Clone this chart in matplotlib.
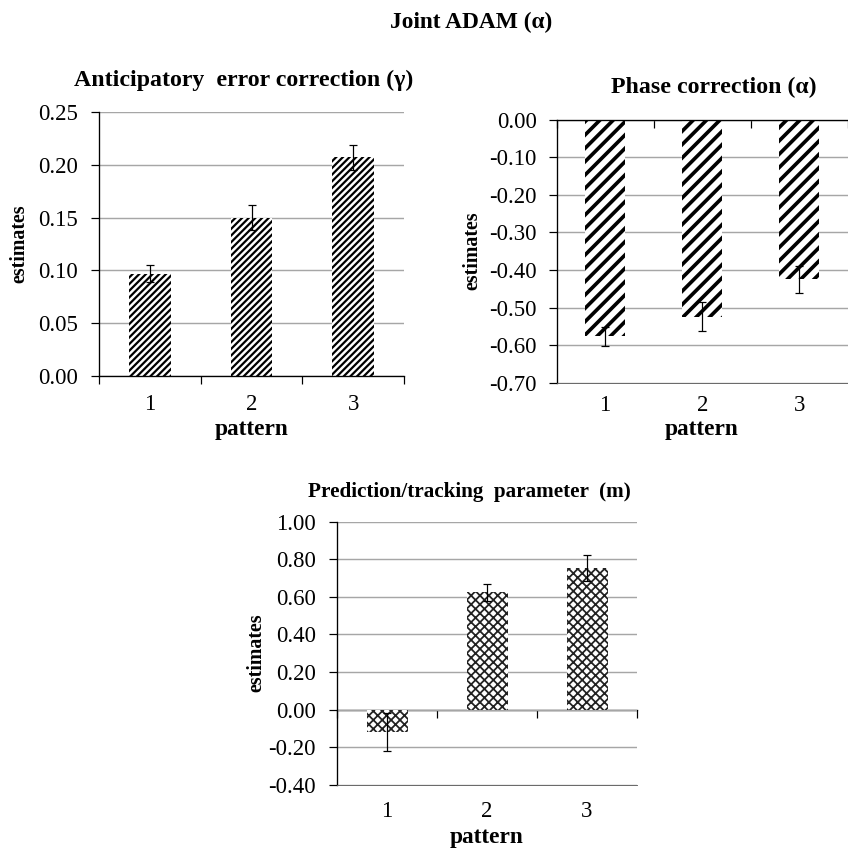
import numpy as np
import matplotlib.pyplot as plt

plt.rcParams['font.family'] = ['Liberation Serif', 'DejaVu Serif']

# data
patterns = [1, 2, 3]
pattern_labels = ['1', '2', '3']
gamma = [0.097, 0.150, 0.207]          # anticipatory error correction
gamma_err = [0.008, 0.012, 0.012]
alpha = [-0.576, -0.524, -0.424]       # phase correction
alpha_err = [0.025, 0.038, 0.036]
m_par = [-0.12, 0.624, 0.752]          # prediction/tracking parameter
m_err = [0.10, 0.045, 0.07]

gamma_ticks = [0.00, 0.05, 0.10, 0.15, 0.20, 0.25]
alpha_ticks = [0.00, -0.10, -0.20, -0.30, -0.40, -0.50, -0.60, -0.70]
m_ticks = [-0.40, -0.20, 0.00, 0.20, 0.40, 0.60, 0.80, 1.00]
bounds = [0.5, 1.5, 2.5, 3.5]

W, H = 848, 850
fig = plt.figure(figsize=(W / 80, H / 80), dpi=80)


def rect(x0, x1, ytop, ybot):
    # pixel box -> figure fraction
    return [x0 / W, 1 - ybot / H, (x1 - x0) / W, (ybot - ytop) / H]


def ftext(x, y, s, **kw):
    fig.text(x / W, 1 - y / H, s, ha=kw.pop('ha', 'center'), va='center', **kw)


def panel(ax, vals, errs, ticks, hatch, hlw, hcol, ypad):
    plt.rcParams['hatch.linewidth'] = hlw
    bars = ax.bar(patterns, vals, width=0.41, color='white', edgecolor=hcol,
                  linewidth=0, hatch=hatch, zorder=2)
    for b in bars:
        if hasattr(b, 'set_hatch_linewidth'):
            b.set_hatch_linewidth(hlw)
    ax.errorbar(patterns, vals, yerr=errs, fmt='none', ecolor='black',
                elinewidth=1.1, capsize=4, capthick=1.1, zorder=3)
    ax.set_ylim(min(ticks), max(ticks))
    ax.set_yticks(ticks, ['%.2f' % t for t in ticks])
    ax.yaxis.grid(True, color='#a6a6a6', lw=1.3)
    ax.set_axisbelow(True)
    ax.spines['right'].set_visible(False)
    ax.spines['top'].set_visible(False)
    ax.spines['left'].set_linewidth(1.2)
    ax.tick_params(axis='y', length=7, width=1.1, labelsize=20.5, pad=ypad)
    ax.set_xticks(patterns, pattern_labels)


# Anticipatory error correction
ax1 = fig.add_axes(rect(99, 404, 112, 376))
panel(ax1, gamma, gamma_err, gamma_ticks, '////', 2.0, 'black', 12)
ax1.set_xlim(0.5, 3.5)
ax1.spines['bottom'].set_linewidth(1.2)
ax1.set_xticks(bounds, minor=True)
ax1.tick_params(axis='x', which='major', length=0, labelsize=20.5, pad=16.5)
ax1.tick_params(axis='x', which='minor', length=7, width=1.1)

# Phase correction
ax2 = fig.add_axes(rect(556.5, 848, 119.5, 383))
panel(ax2, alpha, alpha_err, alpha_ticks, '//', 3.3, 'black', 10.8)
ax2.set_xlim(0.5, 3.43)
ax2.spines['top'].set_visible(True)
ax2.spines['top'].set_linewidth(1.2)
ax2.spines['bottom'].set_color('#5a5a5a')
ax2.set_xticks(bounds, minor=True)
ax2.tick_params(axis='x', which='major', length=0, labelsize=20.5, pad=10.4)
ax2.tick_params(axis='x', which='minor', bottom=False, top=True,
                direction='in', length=7, width=1.1)

# Prediction/tracking parameter
ax3 = fig.add_axes(rect(337, 637, 521.5, 785))
panel(ax3, m_par, m_err, m_ticks, 'xxx', 1.6, '#222222', 12)
ax3.set_xlim(0.5, 3.5)
ax3.spines['bottom'].set_color('#5a5a5a')
ax3.tick_params(axis='x', which='major', length=0, labelsize=20.5, pad=14)
zero = (0 - min(m_ticks)) / (max(m_ticks) - min(m_ticks))
sec = ax3.secondary_xaxis(zero)
sec.set_xticks(bounds, ['', '', '', ''])
sec.tick_params(length=7, width=1.1, direction='out')
sec.spines['bottom'].set_linewidth(1.2)

# texts
ftext(471, 22, 'Joint ADAM (\u03b1)', fontsize=21, fontweight='bold')
ftext(244, 80, 'Anticipatory  error correction (\u03b3)', fontsize=21.5, fontweight='bold')
ftext(714, 87, 'Phase correction (\u03b1)', fontsize=21.5, fontweight='bold')
ftext(631, 492, 'Prediction/tracking  parameter  (m)', fontsize=19,
      fontweight='bold', ha='right')

ftext(19, 244, 'estimates', fontsize=18, fontweight='bold', rotation=90)
ftext(472, 251, 'estimates', fontsize=18, fontweight='bold', rotation=90)
ftext(256, 653, 'estimates', fontsize=18, fontweight='bold', rotation=90)

ftext(252, 430, 'pattern', fontsize=21, fontweight='bold')
ftext(702, 430, 'pattern', fontsize=21, fontweight='bold')
ftext(487, 837, 'pattern', fontsize=21, fontweight='bold')

fig.savefig('out.png', dpi=80)
